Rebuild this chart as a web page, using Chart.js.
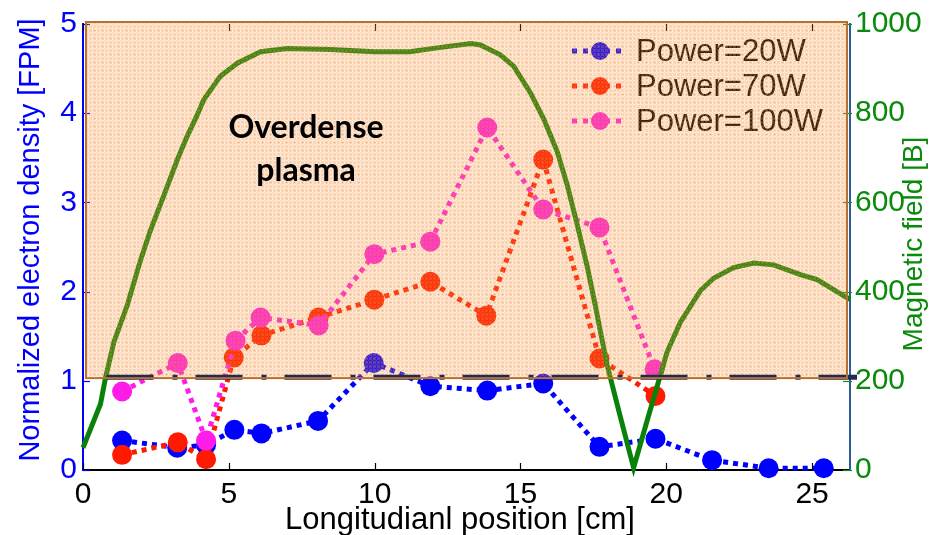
<!DOCTYPE html>
<html>
<head>
<meta charset="utf-8">
<script src="https://cdn.jsdelivr.net/npm/chart.js@4.4.1/dist/chart.umd.min.js"></script>
<style>
  html, body { margin: 0; padding: 0; background: #fff; }
  #wrap { width: 938px; height: 535px; position: relative; }
</style>
</head>
<body>
<div id="wrap"><canvas id="plasma-chart"></canvas></div>
<script>
// axis ticks
const xTicks = [0, 5, 10, 15, 20, 25];
const densityTicks = [0, 1, 2, 3, 4, 5];
const fieldTicks = [0, 200, 400, 600, 800, 1000];

const seriesNames = ['Power=20W', 'Power=70W', 'Power=100W'];
const seriesColors = ['#0000ff', '#ff1a00', '#ff1ce8'];

// measured density (left axis)
const posP20 = [1.34, 3.23, 4.22, 5.19, 6.12, 8.06, 9.97, 11.91, 13.86, 15.78, 17.71, 19.63, 21.57, 23.51, 25.4];
const densP20 = [0.33, 0.25, 0.28, 0.45, 0.41, 0.55, 1.20, 0.94, 0.89, 0.97, 0.26, 0.35, 0.11, 0.02, 0.02];

const posP70 = [1.34, 3.25, 4.22, 5.17, 6.12, 8.08, 9.99, 11.91, 13.83, 15.78, 17.71, 19.63];
const densP70 = [0.17, 0.31, 0.12, 1.26, 1.51, 1.71, 1.91, 2.11, 1.73, 3.48, 1.25, 0.83];

const posP100 = [1.34, 3.25, 4.22, 5.23, 6.09, 8.08, 9.99, 11.91, 13.86, 15.78, 17.71, 19.6];
const densP100 = [0.88, 1.20, 0.33, 1.45, 1.71, 1.62, 2.42, 2.56, 3.84, 2.92, 2.72, 1.13];

// magnetic field profile (right axis)
const fieldPos = [0, 0.6, 0.77, 1.06, 1.52, 1.97, 2.31, 2.77, 3.23, 3.57, 3.91, 4.14, 4.71, 5.29, 6.09,
  7.0, 8.5, 10.0, 11.2, 12.2, 13.3, 13.63, 14.31, 14.77, 15.34, 15.8, 16.26, 16.6, 16.94, 17.29,
  17.57, 17.68, 17.97, 18.43, 18.88, 19.34, 19.8, 20.03, 20.48, 21.17, 21.62, 22.31, 23.0, 23.68,
  24.6, 25.17, 26.2, 26.3];
const fieldB = [50, 148, 206, 287, 370, 470, 537, 615, 695, 748, 795, 830, 883, 912, 938,
  945, 943, 938, 938, 947, 956, 953, 931, 905, 846, 787, 714, 640, 552, 456,
  368, 331, 236, 118, 5, 110, 213, 265, 331, 402, 430, 454, 464, 460,
  438, 427, 386, 383];

const criticalDensity = 1;
const overdenseFloor = 1.03;
const xMax = 26.3;

const zip = (xs, ys) => xs.map((v, i) => ({ x: v, y: ys[i] }));

const FONT = "'Liberation Sans', Arial, sans-serif";

function makeHatch(ctx) {
  const tile = document.createElement('canvas');
  tile.width = 8;
  tile.height = 8;
  const t = tile.getContext('2d');
  t.fillStyle = 'rgba(243,148,64,0.40)';
  t.fillRect(0, 0, 8, 8);
  t.clearRect(0, 0, 8, 1);
  t.clearRect(0, 4, 8, 1);
  t.clearRect(0, 0, 1, 8);
  t.clearRect(4, 0, 1, 8);
  t.fillStyle = 'rgba(243,148,64,0.20)';
  t.fillRect(0, 0, 8, 1);
  t.fillRect(0, 4, 8, 1);
  t.fillRect(0, 0, 1, 8);
  t.fillRect(4, 0, 1, 8);
  t.fillStyle = 'rgba(215,110,30,0.5)';
  t.fillRect(6, 6, 1, 1);
  return ctx.createPattern(tile, 'repeat');
}

const overdensePlugin = {
  id: 'overdense',
  afterDatasetsDraw(chart) {
    const { ctx, chartArea: a, scales: { x, y, y2 } } = chart;
    ctx.save();

    // inward tick marks
    ctx.lineWidth = 1.2;
    ctx.strokeStyle = '#0000ff';
    densityTicks.forEach(v => {
      const py = Math.round(y.getPixelForValue(v)) + 0.5;
      ctx.beginPath(); ctx.moveTo(a.left, py); ctx.lineTo(a.left + 7, py); ctx.stroke();
    });
    ctx.strokeStyle = '#1a8a1a';
    fieldTicks.forEach(v => {
      const py = Math.round(y2.getPixelForValue(v)) + 0.5;
      ctx.beginPath(); ctx.moveTo(a.right - 7, py); ctx.lineTo(a.right + 2, py); ctx.stroke();
    });
    ctx.strokeStyle = '#000';
    xTicks.forEach(v => {
      const px = Math.round(x.getPixelForValue(v)) + 0.5;
      ctx.beginPath(); ctx.moveTo(px, a.bottom); ctx.lineTo(px, a.bottom - 7); ctx.stroke();
      ctx.beginPath(); ctx.moveTo(px, a.top); ctx.lineTo(px, a.top + 7); ctx.stroke();
    });

    // legend
    seriesNames.forEach((name, i) => {
      const cy = 51 + i * 35;
      ctx.strokeStyle = seriesColors[i];
      ctx.lineWidth = 5;
      ctx.setLineDash([5, 6]);
      ctx.beginPath(); ctx.moveTo(572, cy); ctx.lineTo(624, cy); ctx.stroke();
      ctx.setLineDash([]);
      ctx.fillStyle = seriesColors[i];
      ctx.beginPath(); ctx.arc(600, cy, 9, 0, Math.PI * 2); ctx.fill();
      ctx.fillStyle = '#000';
      ctx.font = '31px ' + FONT;
      ctx.textAlign = 'left';
      ctx.textBaseline = 'middle';
      ctx.fillText(name, 636, cy + 1);
    });

    // overdense region
    const top = y.getPixelForValue(5) - 2;
    const bottom = y.getPixelForValue(overdenseFloor);
    const left = a.left + 3;
    const right = a.right - 3;
    ctx.fillStyle = makeHatch(ctx);
    ctx.fillRect(left, top, right - left, bottom - top);

    // critical density line
    const yc = y.getPixelForValue(criticalDensity) - 3.5;
    ctx.strokeStyle = '#1c2b5a';
    ctx.lineWidth = 5;
    ctx.setLineDash([47, 19, 5, 18]);
    ctx.beginPath(); ctx.moveTo(106.5, yc); ctx.lineTo(857, yc); ctx.stroke();
    ctx.setLineDash([]);

    ctx.strokeStyle = '#b8702c';
    ctx.lineWidth = 2;
    ctx.strokeRect(left, top, right - left, bottom - top);

    ctx.fillStyle = '#000';
    ctx.font = "bold 32px Lato, 'Open Sans', sans-serif";
    ctx.textAlign = 'center';
    ctx.textBaseline = 'alphabetic';
    ctx.fillText('Overdense', 306, 138);
    ctx.fillText('plasma', 306, 181);

    // axis titles
    ctx.font = '31px ' + FONT;
    ctx.fillStyle = '#000';
    ctx.fillText('Longitudianl position [cm]', 460, 529);

    ctx.save();
    ctx.translate(31, 240);
    ctx.rotate(-Math.PI / 2);
    ctx.fillStyle = '#0000ff';
    ctx.font = '29px ' + FONT;
    ctx.textBaseline = 'middle';
    ctx.fillText('Normalized electron density [FPM]', 0, 0);
    ctx.restore();

    ctx.save();
    ctx.translate(914, 244);
    ctx.rotate(-Math.PI / 2);
    ctx.fillStyle = '#0a8a0a';
    ctx.font = '28px ' + FONT;
    ctx.textBaseline = 'middle';
    ctx.fillText('Magnetic field [B]', 0, 0);
    ctx.restore();

    ctx.restore();
  }
};

const dotted = (label, xs, ys, color) => ({
  label,
  data: zip(xs, ys),
  yAxisID: 'y',
  borderColor: color,
  backgroundColor: color,
  borderWidth: 5,
  borderDash: [5, 5],
  borderCapStyle: 'butt',
  pointRadius: 10,
  pointHoverRadius: 10,
  pointBorderWidth: 0,
  pointBackgroundColor: color,
  tension: 0,
  clip: false,
});

new Chart(document.getElementById('plasma-chart'), {
  type: 'line',
  data: {
    datasets: [
      {
        label: 'Magnetic field',
        data: zip(fieldPos, fieldB),
        yAxisID: 'y2',
        borderColor: '#0a820a',
        borderWidth: 5,
        pointRadius: 0,
        tension: 0,
        clip: false,
      },
      dotted(seriesNames[2], posP100, densP100, seriesColors[2]),
      dotted(seriesNames[1], posP70, densP70, seriesColors[1]),
      dotted(seriesNames[0], posP20, densP20, seriesColors[0]),
    ],
  },
  options: {
    responsive: true,
    maintainAspectRatio: false,
    animation: false,
    layout: { padding: { top: 17, left: 0, right: 0, bottom: 0 } },
    plugins: { legend: { display: false }, tooltip: { enabled: false } },
    scales: {
      x: {
        type: 'linear',
        min: 0,
        max: xMax,
        afterFit: s => { s.height = 65; },
        afterBuildTicks: s => { s.ticks = xTicks.map(v => ({ value: v })); },
        grid: { display: false, drawTicks: false },
        border: { display: true, color: '#000', width: 2 },
        ticks: { color: '#000', padding: 7, font: { family: FONT, size: 30 }, maxRotation: 0,
          callback: v => String(v) },
      },
      y: {
        position: 'left',
        min: 0,
        max: 5,
        afterFit: s => { s.width = 83; },
        afterBuildTicks: s => { s.ticks = densityTicks.map(v => ({ value: v })); },
        grid: { display: false, drawTicks: false },
        border: { display: true, color: '#0000ff', width: 2 },
        ticks: { color: '#0000ff', padding: 6, font: { family: FONT, size: 30 },
          callback: v => String(v) },
      },
      y2: {
        position: 'right',
        min: 0,
        max: 1000,
        afterFit: s => { s.width = 88; },
        afterBuildTicks: s => { s.ticks = fieldTicks.map(v => ({ value: v })); },
        grid: { display: false, drawTicks: false },
        border: { display: true, color: '#2b5c98', width: 2 },
        ticks: { color: '#0a8a0a', padding: 5, font: { family: FONT, size: 30 },
          callback: v => String(v) },
      },
    },
  },
  plugins: [overdensePlugin],
});
</script>
</body>
</html>
